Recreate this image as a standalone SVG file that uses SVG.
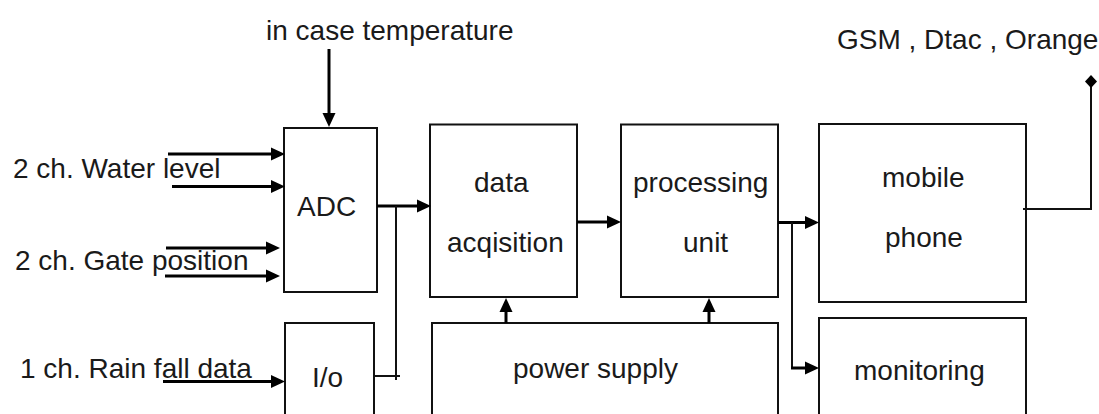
<svg xmlns="http://www.w3.org/2000/svg" width="1099" height="414" viewBox="0 0 1099 414">
<style>
.box{fill:#fff;stroke:#111;stroke-width:2}
.t{font-family:"Liberation Sans",Arial,sans-serif;font-size:28px;fill:#1a1a1a}
.m{text-anchor:middle}
.a{fill:none;stroke:#000;stroke-width:3;marker-end:url(#ah)}
.w{fill:none;stroke:#111;stroke-width:2}
</style>
<defs>
<marker id="ah" markerUnits="userSpaceOnUse" markerWidth="14" markerHeight="14" refX="0" refY="6.5" orient="auto" overflow="visible">
<path d="M0,0 L14,6.5 L0,13 Z" fill="#000"/>
</marker>
</defs>
<rect width="1099" height="414" fill="#fff"/>
<g id="labels">
<text class="t" x="266" y="39.5">in case temperature</text>
<text class="t" x="837" y="49">GSM , Dtac , Orange</text>
<text class="t" x="13" y="177.5">2 ch. Water level</text>
<text class="t" x="15" y="270">2 ch. Gate position</text>
<text class="t" x="20" y="378">1 ch. Rain fall data</text>
</g>
<g id="adc"><rect class="box" x="284" y="128" width="93" height="164"/><text class="t" x="297" y="216">ADC</text></g>
<g id="io"><rect class="box" x="285" y="323" width="89" height="100"/><text class="t" x="312" y="387">I/o</text></g>
<g id="data-acquisition"><rect class="box" x="430" y="124.5" width="147" height="172.5"/><text class="t" x="474" y="191.5">data</text><text class="t" x="447" y="251.5">acqisition</text></g>
<g id="processing-unit"><rect class="box" x="621" y="124.5" width="157" height="172.5"/><text class="t" x="633" y="191.5">processing</text><text class="t" x="683" y="251.5">unit</text></g>
<g id="power-supply"><rect class="box" x="432" y="323" width="346" height="100"/><text class="t" x="513" y="378">power supply</text></g>
<g id="mobile-phone"><rect class="box" x="819" y="124" width="207" height="178"/><text class="t" x="882" y="186.5">mobile</text><text class="t" x="885" y="246.5">phone</text></g>
<g id="monitoring"><rect class="box" x="819" y="318" width="207" height="105"/><text class="t" x="854" y="380">monitoring</text></g>
<g id="connectors">
<path class="a" d="M329,49 V113"/>
<path class="a" d="M168,154 H271"/>
<path class="a" d="M172,186.5 H271"/>
<path class="a" d="M166,248 H266"/>
<path class="a" d="M165,276 H266"/>
<path class="a" d="M163,381.5 H271"/>
<path class="a" d="M377,206 H417"/>
<path class="w" d="M396,206 V380"/>
<path class="w" d="M374,376 H400"/>
<path class="a" d="M577,222 H607"/>
<path class="a" d="M778,222.5 H805"/>
<path class="w" d="M792,222.5 V368"/>
<path class="a" d="M791,368 H805"/>
<path class="a" d="M506,323 V312"/>
<path class="a" d="M709,323 V312"/>
<path class="w" d="M1023,209 H1091 V86"/>
<path d="M1091,75 L1097,81.5 L1091,88 L1085,81.5 Z" fill="#000"/>
</g>
</svg>
